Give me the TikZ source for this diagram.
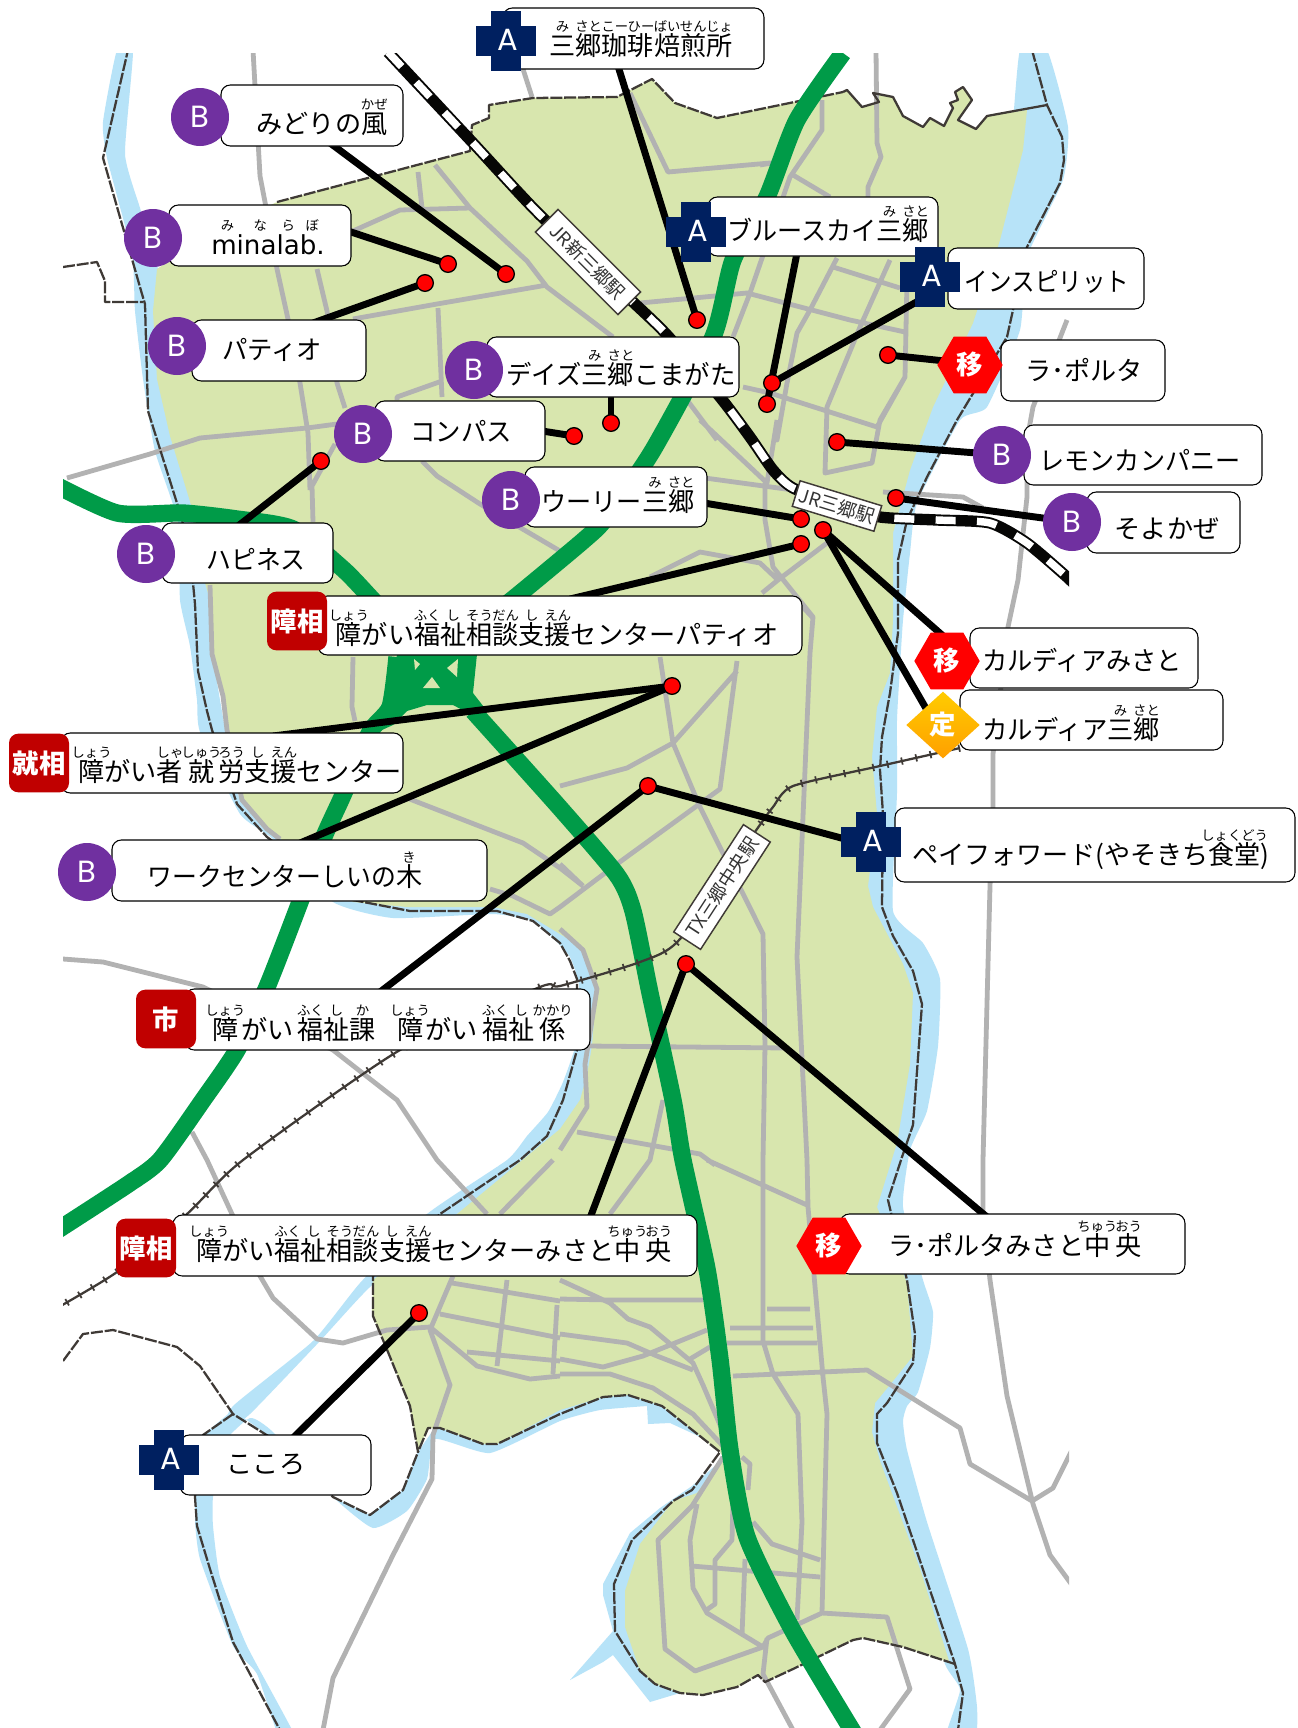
\documentclass[tikz,border=0pt]{standalone}
\usepackage{fontspec}
\setmainfont{Noto Sans CJK JP}
\newfontfamily\poppinsf{Poppins}
\newfontfamily\dejavuf{DejaVu Sans}
\usetikzlibrary{shapes.geometric,calc}
\pgfdeclarelayer{map}
\pgfdeclarelayer{conn}
\pgfsetlayers{map,conn,main}
\definecolor{river}{HTML}{B7E3F8}
\definecolor{city}{HTML}{D8E6AE}
\definecolor{roadc}{HTML}{B2B2B2}
\definecolor{expw}{HTML}{009B48}
\definecolor{bord}{HTML}{3F3A36}
\definecolor{navyc}{HTML}{002060}
\definecolor{purpc}{HTML}{7030A0}
\definecolor{redd}{HTML}{C00000}
\tikzset{
 x=.75pt,y=-.75pt,
 road/.style={draw=roadc,line width=3.6pt,line join=round},
 border/.style={draw=bord,line width=1.7pt,dash pattern=on 9pt off 1.4pt,line join=round},
 expway/.style={draw=expw,line width=13pt,line join=round},
 conn/.style={draw=black,line width=5.2pt},
 dot/.style={circle,fill=red,draw=black,line width=1pt,minimum size=12.5pt,inner sep=0pt,outer sep=0pt},
 labbox/.style={draw=black,line width=.8pt,fill=white,rounded corners=7pt,inner sep=0pt,outer sep=0pt},
 txt/.style={anchor=base,inner sep=0pt,outer sep=0pt,font=\fontsize{19.6pt}{24pt}\selectfont},
 bcirc/.style={circle,fill=purpc,minimum size=43.5pt,inner sep=0pt,outer sep=0pt,text=white,font=\poppinsf\fontsize{23pt}{24pt}\selectfont},
 crossv/.style={fill=navyc,minimum width=22.5pt,minimum height=45pt,inner sep=0pt,outer sep=0pt},
 crossh/.style={fill=navyc,minimum width=45pt,minimum height=22.5pt,inner sep=0pt,outer sep=0pt,text=white,font=\poppinsf\fontsize{23pt}{24pt}\selectfont},
 hexa/.style={regular polygon,regular polygon sides=6,fill=red,minimum size=49pt,inner sep=0pt,outer sep=0pt,text=white,font=\bfseries\fontsize{19.8pt}{24pt}\selectfont},
 dia/.style={diamond,aspect=1.08,shade,top color=yellow!60!orange,middle color=yellow!75!orange,bottom color=orange!75!yellow,minimum width=55pt,minimum height=50pt,inner sep=0pt,outer sep=0pt,text=white,font=\bfseries\fontsize{19.8pt}{24pt}\selectfont},
 badge/.style={fill=redd,rounded corners=7pt,inner sep=0pt,outer sep=0pt,minimum width=45pt,minimum height=44pt,text=white,font=\bfseries\fontsize{19.8pt}{24pt}\selectfont},
 station/.style={draw=bord,line width=1.1pt,fill=white,inner sep=0pt,outer sep=0pt,text=black!80,font=\fontsize{14pt}{15pt}\selectfont},
}
\newcommand\rb[2]{\setbox0=\hbox{#1}\hbox to \wd0{\hss\raisebox{18pt}[0pt][0pt]{\hbox{\fontsize{10pt}{10pt}\selectfont #2}}\hss}\kern-\wd0\box0}
\newcommand\lab[5]{\pgfmathsetmacro\labw{(#4-#2)*.75}\pgfmathsetmacro\labh{(#5-#3)*.75}%
 \node[labbox,minimum width=\labw pt,minimum height=\labh pt] (#1) at ({(#2+#4)/2},{(#3+#5)/2}) {};}
\newcommand\crossmark[3]{\node[crossv] (#1v) at (#2,#3) {};\node[crossh] (#1) at (#2,#3) {\hspace{2pt}\raisebox{1pt}{A}};}
\newcommand\narrow[2]{\scalebox{#1}[1]{#2}}
\begin{document}
\begin{tikzpicture}
\useasboundingbox (0,0) rectangle (1298,1728);
\begin{pgfonlayer}{map}
\fill[white] (0,0) rectangle (1298,1728);
\begin{scope}
\clip (63,53) rectangle (1069,1728);
% rivers
\fill[river] plot[smooth cycle,tension=.3] coordinates {(1020,50)(1047,50)(1068,127)(1063,180)(1027,257)(1020,330)(987,407)(960,420)(917,503)(910,553)(903,620)(900,667)(897,720)(897,793)(893,911)(923,943)(940,979)(938,1046)(927,1111)(910,1150)(903,1207)(923,1280)(933,1312)(930,1348)(918,1392)(907,1406)(903,1421)(907,1450)(927,1522)(968,1649)(977,1707)(975,1740)(945,1740)(960,1690)(945,1664)(915,1569)(870,1440)(870,1400)(885,1380)(870,1207)(885,1140)(895,1064)(885,980)(860,900)(865,814)(860,757)(875,670)(880,533)(900,470)(925,410)(985,240)(1010,150)};
\fill[river] plot[smooth cycle,tension=.3] coordinates {(117,50)(103,122)(107,158)(132,254)(135,311)(143,379)(155,451)(178,522)(180,600)(190,646)(197,700)(200,732)(240,814)(273,839)(333,902)(393,918)(493,914)(533,921)(555,940)(570,957)(579,985)(577,1040)(563,1082)(548,1112)(527,1136)(507,1160)(427,1214)(360,1283)(313,1341)(233,1406)(225,1430)(250,1414)(320,1341)(370,1287)(457,1214)(560,1140)(592,1085)(605,986)(585,940)(530,900)(400,895)(350,890)(280,825)(240,800)(220,700)(212,646)(212,600)(200,508)(172,436)(160,379)(158,311)(158,269)(140,208)(125,154)(133,50)};
\fill[river] (203,1435) -- (195,1497) -- plot[smooth,tension=.3] coordinates {(195,1522)(200,1559)(233,1646)(257,1674)(280,1740)(297,1740)(247,1646)(220,1577)(213,1526)(213,1497)(222,1445)(250,1418)(273,1432)(333,1497)(373,1528)(407,1511)(427,1479)(435,1439)(490,1453)(560,1421)(600,1410)(647,1406)} -- (648,1424) -- (670,1423) -- (720,1446) -- (725,1457) -- (662,1395) -- (600,1385) -- (500,1430) -- (440,1420) -- (418,1452) -- (403,1490) -- (370,1515) -- (333,1497) -- (273,1439) -- (233,1410) -- cycle;
\fill[river] (725,1457) -- (692,1486) -- (660,1508) -- (630,1533) -- (603,1584) -- (603,1595) -- (613,1631) -- (570,1680) -- (603,1662) -- (613,1655) -- (650,1702) -- (680,1693) -- (680,1675) -- (640,1600) -- (650,1540) -- (700,1495) -- (730,1460) -- cycle;
% city
\fill[city] (277,202)--(470,151)--(472,125)--(489,118)--(489,105)--(533,98)--(617,97)--(652,79)--(675,103)--(717,118)--(843,92)--(847,90)--(862,107)--(879,102)--(873,93)--(893,97)--(903,116)--(923,127)--(930,118)--(944,126)--(953,108)--(950,103)--(958,100)--(955,92)--(963,87)--(972,100)--(958,120)--(976,129)--(987,116)--(1027,110)--(1023,150)--(1000,240)--(973,323)--(933,407)--(910,470)--(893,533)--(893,620)--(890,673)--(877,707)--(872,757)--(877,814)--(868,886)--(873,907)--(903,964)--(913,993)--(910,1064)--(897,1143)--(877,1207)--(907,1283)--(913,1356)--(893,1381)--(875,1403)--(872,1432)--(880,1461)--(920,1569)--(950,1664)--(955,1664)--(903,1647)--(863,1638)--(853,1640)--(793,1669)--(765,1682)--(758,1675)--(737,1687)--(703,1695)--(680,1693)--(655,1684)--(640,1671)--(625,1627)--(625,1591)--(640,1544)--(673,1501)--(697,1493)--(723,1457)--(720,1452)--(662,1406)--(628,1395)--(603,1397)--(560,1410)--(497,1444)--(483,1444)--(440,1428)--(428,1428)--(418,1452)--(410,1406)--(388,1352)--(372,1314)--(373,1280)--(457,1214)--(560,1129)--(580,1100)--(587,1075)--(592,1046)--(597,986)--(580,946)--(560,934)--(527,914)--(493,907)--(407,907)--(353,902)--(273,832)--(243,804)--(227,732)--(223,696)--(210,646)--(210,600)--(203,576)--(192,508)--(170,436)--(157,379)--(153,311)--(157,269)--(200,240)--cycle;
% roads
\draw[road] (253,50)--(260,176)--(265,202)--(277,269)--(288,319)--(300,383)--(308,433)--(310,490)
 (317,269)--(327,311)--(337,383)--(345,408)
 (67,478)--(150,454)--(200,438)--(307,428)--(337,424)
 (353,231)--(400,210)--(470,208)
 (435,165)--(470,208)--(527,261)--(547,287)--(613,337)
 (418,172)--(422,208)
 (353,319)--(437,304)--(547,285)
 (438,308)--(442,397)
 (397,400)--(397,397)--(442,381)
 (335,444)--(312,486)--(313,522)
 (422,461)--(437,476)--(480,504)--(560,551)
 (523,69)--(532,97)
 (630,93)--(668,172)--(770,163)
 (822,100)--(822,130)--(790,177)--(750,293)--(733,337)
 (793,175)--(830,197)
 (760,165)--(772,163)
 (876,50)--(877,143)--(881,157)--(868,187)--(868,197)
 (640,303)--(747,293)--(850,320)--(905,332)
 (833,267)--(900,288)
 (837,258)--(810,310)--(797,333)--(787,383)--(777,440)--(777,420)
 (890,260)--(860,327)--(827,407)--(825,473)--(872,463)--(880,420)--(905,377)--(907,280)
 (743,387)--(770,393)--(877,427)--(905,377)
 (700,420)--(767,483)--(777,420)
 (687,400)--(717,440)
 (705,478)--(793,490)
 (765,483)--(765,520)--(773,567)--(813,617)--(810,653)--(797,957)--(807,1160)--(808,1207)--(823,1377)--(827,1414)--(822,1613)
 (650,577)--(700,552)--(760,563)--(778,580)
 (778,580)--(827,543)
 (762,593)--(778,580)
 (883,492)--(963,497)--(983,508)
 (1067,320)--(1033,407)--(1027,440)--(1027,497)--(1018,580)--(1008,627)--(993,754)--(993,807)--(990,886)--(983,1160)--(983,1211)--(990,1280)--(1007,1396)--(1033,1504)--(1050,1555)--(1072,1585)
 (1032,1501)--(1053,1488)--(1072,1450)
 (733,1376)--(867,1370)--(960,1428)--(970,1464)--(1032,1501)
 (660,657)--(673,743)--(700,807)--(763,934)--(765,1046)--(763,1160)--(763,1341)--(773,1374)--(798,1414)--(802,1522)--(797,1620)
 (737,661)--(720,789)--(617,864)--(560,907)
 (737,671)--(673,743)--(627,768)--(560,786)
 (800,604)--(813,618)
 (588,1046)--(787,1048)
 (560,929)--(583,950)--(597,989)--(585,1064)--(587,1107)--(560,1150)
 (577,1132)--(700,1154)--(715,1165)
 (663,1100)--(650,1160)--(610,1214)
 (560,864)--(583,886)
 (707,1160)--(807,1205)
 (560,1280)--(610,1303)--(628,1319)--(650,1327)--(693,1363)--(703,1385)--(723,1432)
 (560,1299)--(610,1300)--(703,1300)
 (560,1334)--(627,1343)--(657,1356)--(693,1370)
 (560,1359)--(603,1367)--(643,1356)--(707,1330)
 (690,1359)--(710,1347)
 (730,1328)--(813,1328)
 (727,1343)--(817,1343)
 (767,1309)--(810,1309)
 (560,1374)--(610,1374)--(653,1388)--(693,1414)--(723,1446)
 (723,1457)--(692,1506)--(658,1540)--(665,1649)--(695,1671)--(763,1647)
 (697,1504)--(690,1540)--(693,1588)--(707,1613)--(763,1647)--(768,1638)--(822,1613)--(887,1617)--(910,1689)--(880,1730)
 (742,1457)--(750,1464)--(748,1490)
 (733,1500)--(732,1540)--(715,1560)--(715,1604)--(705,1611)
 (753,1522)--(772,1544)--(820,1560)
 (692,1566)--(820,1577)
 (745,1559)--(742,1635)
 (767,1638)--(763,1674)--(793,1730)
 (437,1160)--(487,1214)
 (553,1160)--(500,1214)
 (192,1132)--(207,1160)--(232,1214)--(260,1276)--(273,1298)--(317,1339)--(343,1343)--(387,1330)--(430,1327)
 (453,1276)--(430,1330)--(450,1385)--(433,1435)--(432,1479)--(393,1555)--(333,1678)--(323,1730)
 (452,1283)--(560,1301)
 (507,1280)--(497,1366)
 (440,1314)--(560,1338)
 (430,1327)--(477,1366)--(530,1379)--(560,1376)
 (467,1352)--(560,1361)
 (557,1305)--(553,1374)
 (63,959)--(103,962)--(203,987)--(333,1050)--(397,1100)--(437,1160)
 (353,657)--(352,707)--(355,721)
 (210,585)--(212,654)--(223,696)--(227,730)--(242,800)--(267,829)--(280,839)
 (407,798)--(523,843)--(560,868)--(583,886)
 (490,889)--(513,896)--(550,914)--(560,907)
 ;
% boundaries
\draw[border] (277,202)--(470,151)--(472,125)--(489,118)--(489,105)--(533,98)--(617,97)--(652,79)--(675,103)--(717,118)--(843,92);
\draw[bord,line width=1.7pt,line join=round] (843,92)--(847,90)--(862,107)--(879,102)--(873,93)--(893,97)--(903,116)--(923,127)--(930,118)--(944,126)--(953,108)--(950,103)--(958,100)--(955,92)--(963,87)--(972,100)--(958,120)--(976,129)--(987,116)--(1047,105);
\draw[border] (1032,50)--(1047,105)--(1062,137)--(1064,160)--(1060,183)--(1027,247)--(1007,337)--(957,420)--(927,477)--(907,520)--(898,560)--(898,633)--(890,693)--(882,737)--(880,770)--(883,814)--(882,907)--(893,936)--(913,971)--(922,1004)--(913,1125)--(902,1157)--(888,1200)--(907,1280)--(915,1334)--(913,1363)--(887,1403)--(877,1414)--(877,1443)--(897,1493)--(913,1540)--(955,1664)--(963,1693)--(958,1730);
\draw[border] (955,1664)--(903,1647)--(863,1638)--(853,1640)--(793,1669)--(765,1682)--(758,1675)--(737,1687)--(703,1695)--(680,1693)--(655,1684)--(640,1671)--(615,1631)--(614,1584)--(632,1540)--(673,1501)--(692,1490)--(720,1452)--(662,1406)--(628,1395)--(603,1397)--(560,1414)--(497,1444)--(483,1444)--(440,1428)--(428,1428)--(418,1452)--(410,1406)--(388,1352)--(373,1316)--(373,1276)--(440,1214)--(520,1160)--(547,1136)--(563,1100)--(577,1050)--(577,979)--(570,961)--(560,943)--(533,921)--(497,911)--(410,911)--(353,900)--(267,837)--(237,804)--(212,730)--(207,711)--(198,671)--(195,604)--(193,583)--(182,519)--(148,411)--(145,304)--(142,294)--(103,158)--(128,50);
\draw[border] (63,267)--(97,262)--(105,281)--(105,302)--(143,302);
\draw[border] (63,1361)--(83,1334)--(113,1330)--(177,1347)--(200,1366)--(233,1414)--(273,1439)--(333,1497)--(370,1515)--(403,1490)--(418,1452);
\draw[border] (233,1414)--(203,1435)--(195,1497)--(197,1526)--(210,1569)--(233,1642)--(250,1674)--(280,1730);
% expressways
\draw[expway] plot[smooth,tension=.4] coordinates {(843,53)(797,120)(767,197)(733,260)(713,337)(653,450)(606,518)(584,540)(518,595)(480,625)};
\draw[expway] plot[smooth,tension=.4] coordinates {(397,657)(390,707)(370,732)(343,795)(323,839)(300,902)(267,987)(237,1050)(203,1100)(160,1160)(127,1185)(50,1235)};
\draw[expway] plot[smooth,tension=.4] coordinates {(50,482)(117,513)(183,513)(237,519)(293,529)(343,569)(370,597)(400,630)};
\draw[expway] plot[smooth,tension=.4] coordinates {(473,711)(560,808)(617,875)(633,911)(650,993)(673,1100)(683,1160)(707,1269)(720,1359)(730,1450)(747,1537)(793,1631)(855,1735)};
\fill[expw] (397,654)--(477,654)--(473,693)--(487,711)--(470,714)--(453,705)--(427,705)--(407,711)--(393,725)--(373,734)--(383,714)--(393,693)--cycle;
\fill[city] (414,659)--(420,664)--(415,670)--cycle (458,659)--(447,668)--(457,677)--cycle (432,677)--(423,688)--(440,688)--cycle;
% railways
\draw[black!90!bord,line width=8.5pt] plot[smooth,tension=.4] coordinates {(388,52)(473,143)(540,215)(633,302)(667,335)(720,397)(750,437)(773,470)(793,488)(840,505)(880,517)(937,520)(990,523)(1027,543)(1067,577)(1080,590)};
\draw[white,line width=5.6pt,dash pattern=on 15pt off 16pt] plot[smooth,tension=.4] coordinates {(388,52)(473,143)(540,215)(633,302)(667,335)(720,397)(750,437)(773,470)(793,488)(840,505)(880,517)(937,520)(990,523)(1027,543)(1067,577)(1080,590)};
\draw[bord,line width=1.7pt] plot[smooth,tension=.4] coordinates {(960,748)(880,766)(793,786)(773,807)(757,829)(680,939)(640,962)(560,986)(540,987)(400,1050)(243,1160)(187,1214)(117,1272)(50,1312)};
\draw[bord,line width=5.5pt,dash pattern=on 1.3pt off 9.7pt] plot[smooth,tension=.4] coordinates {(960,748)(880,766)(793,786)(773,807)(757,829)(680,939)(640,962)(560,986)(540,987)(400,1050)(243,1160)(187,1214)(117,1272)(50,1312)};
\end{scope}
\end{pgfonlayer}
% station plates
\node[station,minimum width=87.5pt,minimum height=24pt,rotate=-45] (sShin) at (588,262) {JR新三郷駅};
\node[station,minimum width=64pt,minimum height=20pt,rotate=-17] (sJR) at (837,506) {JR三郷駅};
\node[station,minimum width=96pt,minimum height=24pt,rotate=57] (sTX) at (722,887) {TX三郷中央駅};
% label boxes
\lab{lCoffee}{503}{8}{764}{69}
\lab{lMid}{221}{85}{403}{146}
\lab{lBlue}{708}{197}{938}{256}
\lab{lMina}{169}{205}{351}{266}
\lab{lInsp}{948}{248}{1144}{309}
\lab{lPatio}{192}{320}{366}{381}
\lab{lDays}{487}{337}{739}{397}
\lab{lPorta}{1001}{340}{1165}{401}
\lab{lCompass}{375}{401}{545}{461}
\lab{lLemon}{1024}{425}{1262}{485}
\lab{lWoori}{525}{467}{707}{527}
\lab{lSoyo}{1087}{492}{1240}{553}
\lab{lHappy}{162}{523}{333}{583}
\lab{lCenterP}{318}{596}{802}{655}
\lab{lCarM}{970}{628}{1198}{688}
\lab{lCarS}{960}{690}{1223}{750}
\lab{lJob}{61}{733}{403}{793}
\lab{lPay}{895}{808}{1295}{882}
\lab{lWork}{112}{840}{487}{901}
\lab{lShi}{185}{989}{590}{1050}
\lab{lPMC}{840}{1214}{1185}{1274}
\lab{lMC}{173}{1215}{697}{1276}
\lab{lKoko}{180}{1435}{371}{1495}
% badges
\crossmark{xCoffee}{506}{41}
\crossmark{xBlue}{696}{232}
\crossmark{xInsp}{930}{277}
\crossmark{xPay}{871}{842}
\crossmark{xKoko}{169}{1460}
\node[bcirc] (cMid) at (200,117) {B};
\node[bcirc] (cMina) at (153,238) {B};
\node[bcirc] (cPatio) at (177,346) {B};
\node[bcirc] (cDays) at (474,370) {B};
\node[bcirc] (cCompass) at (363,434) {B};
\node[bcirc] (cLemon) at (1002,455) {B};
\node[bcirc] (cWoori) at (511,500) {B};
\node[bcirc] (cSoyo) at (1072,522) {B};
\node[bcirc] (cHappy) at (146,554) {B};
\node[bcirc] (cWork) at (87,872) {B};
\node[hexa] (hPorta) at (970,365) {\raisebox{-2pt}{移}};
\node[hexa] (hCardia) at (947,661) {\raisebox{-2pt}{移}};
\node[hexa] (hPMC) at (829,1246) {\raisebox{1pt}{移}};
\node[dia] (dTei) at (943,725) {\raisebox{-1pt}{定}};
\node[badge] (bCenterP) at (297,621) {\raisebox{-1.5pt}{障相}};
\node[badge] (bJob) at (39,763) {\raisebox{-1.5pt}{就相}};
\node[badge] (bShi) at (166,1019) {市};
\node[badge] (bMC) at (146,1248) {障相};
% label texts
\node[txt] (tCoffee) at (641,55) {\rb{三}{み}\rb{郷}{さと}\rb{珈}{こー}\rb{琲}{ひー}\rb{焙}{ばい}\rb{煎}{せん}\rb{所}{じょ}};
\node[txt] (tMid) at (322,133) {みどりの\rb{風}{かぜ}};
\node[txt] (tBlue) at (828,240) {\narrow{.96}{ブルースカイ}\rb{三}{み}\rb{郷}{さと}};
\node[txt] (tMina) at (268,254) {\dejavuf\rb{mi}{\rmfamily み}\rb{na}{\rmfamily な}\rb{la}{\rmfamily ら}\rb{b.}{\rmfamily ぼ}};
\node[txt] (tInsp) at (1047,291) {\narrow{.9}{インスピリット}};
\node[txt] (tPatio) at (272,359) {\narrow{.97}{パティオ}};
\node[txt] (tDays) at (621,384) {\narrow{.97}{デイズ}\rb{三}{み}\rb{郷}{さと}\narrow{.97}{こまがた}};
\node[txt] (tPorta) at (1084,380) {ラ･ポルタ};
\node[txt] (tCompass) at (461,441) {\narrow{.97}{コンパス}};
\node[txt] (tLemon) at (1140,470) {\narrow{.96}{レモンカンパニー}};
\node[txt] (tWoori) at (618,511) {\narrow{.96}{ウーリー}\rb{三}{み}\rb{郷}{さと}};
\node[txt] (tSoyo) at (1167,538) {そよかぜ};
\node[txt] (tHappy) at (256,569) {\narrow{.95}{ハピネス}};
\node[txt] (tCenterP) at (557,644) {\rb{障}{しょう}がい\rb{福}{ふく}\rb{祉}{し}\rb{相}{そう}\rb{談}{だん}\rb{支}{し}\rb{援}{えん}センターパティオ};
\node[txt] (tCarM) at (1082,670) {\narrow{.965}{カルディアみさと}};
\node[txt] (tCarS) at (1071,739) {\narrow{.97}{カルディア}\rb{三}{み}\rb{郷}{さと}};
\node[txt] (tJob) at (240,781) {\rb{障}{しょう}がい\rb{者}{しゃ}\hspace{4pt}\rb{就}{しゅう}\hspace{3pt}\rb{労}{ろう}\rb{支}{し}\rb{援}{えん}センター};
\node[txt] (tPay) at (1091,864) {ペイフォワード(やそきち\rb{食堂}{しょくどう})};
\node[txt] (tWork) at (285,886) {\narrow{.95}{ワークセンターしいの}\rb{木}{き}};
\node[txt] (tShi) at (389,1039) {\rb{障}{しょう}\hspace{2pt}がい\hspace{3pt}\rb{福}{ふく}\rb{祉}{し}\rb{課}{か}\hspace{16pt}\rb{障}{しょう}\hspace{2pt}がい\hspace{3pt}\rb{福}{ふく}\rb{祉}{し}\hspace{4pt}\rb{係}{かかり}};
\node[txt] (tMC) at (434,1260) {\rb{障}{しょう}がい\rb{福}{ふく}\rb{祉}{し}\rb{相}{そう}\rb{談}{だん}\rb{支}{し}\rb{援}{えん}センターみさと\rb{中}{ちゅう}\hspace{4pt}\rb{央}{おう}};
\node[txt] (tPMC) at (1015,1255) {ラ･ポルタみさと\rb{中}{ちゅう}\hspace{4pt}\rb{央}{おう}};
\node[txt] (tKoko) at (266,1473) {こころ};
% dots
\node[dot] (dMid) at (506,274) {};
\node[dot] (dMina) at (448,264) {};
\node[dot] (dPatio) at (425,283) {};
\node[dot] (dCoffee) at (697,320) {};
\node[dot] (dBlue) at (767,404) {};
\node[dot] (dInsp) at (772,383) {};
\node[dot] (dDays) at (611,423) {};
\node[dot] (dCompass) at (574,436) {};
\node[dot] (dHappy) at (321,461) {};
\node[dot] (dPorta) at (888,355) {};
\node[dot] (dLemon) at (837,442) {};
\node[dot] (dSoyo) at (896,498) {};
\node[dot] (dWoori) at (801,519) {};
\node[dot] (dCenterP) at (801,544) {};
\node[dot] (dCardia) at (823,530) {};
\node[dot] (dJob) at (672,686) {};
\node[dot] (dPay) at (648,786) {};
\node[dot] (dMC) at (686,964) {};
\node[dot] (dKoko) at (419,1313) {};
% connectors
\begin{pgfonlayer}{conn}
\draw[conn] (dCoffee.center) -- ($(lCoffee.south west)+(115,-3)$);
\draw[conn] (dMid.center) -- ($(lMid.south west)+(109,-3)$);
\draw[conn] (dMina.center) -- ($(lMina.north east)+(-3,26)$);
\draw[conn] (dPatio.center) -- ($(lPatio.north west)+(121,3)$);
\draw[conn] (dHappy.center) -- ($(lHappy.north west)+(76,3)$);
\draw[conn] (dCompass.center) -- ($(lCompass.north east)+(-3,30)$);
\draw[conn] (dDays.center) -- ($(lDays.south west)+(124,-3)$);
\draw[conn] (dWoori.center) -- ($(lWoori.north east)+(-3,36)$);
\draw[conn] (dCenterP.center) -- ($(lCenterP.north west)+(252,3)$);
\draw[conn] (dBlue.center) -- ($(lBlue.south west)+(89,-3)$);
\draw[conn] (dInsp.center) -- ($(xInsp)+(-10,23)$);
\draw[conn] (dPorta.center) -- ($(hPorta)+(-25,-4)$);
\draw[conn] (dLemon.center) -- (cLemon.center);
\draw[conn] (dSoyo.center) -- (cSoyo.center);
\draw[conn] (dCardia.center) -- ($(hCardia)+(3,-19)$);
\draw[conn] (dCardia.center) -- ($(dTei)+(-8,-1)$);
\draw[conn] (dPay.center) -- ($(xPay)+(0,4)$);
\draw[conn] (dPay.center) -- ($(lShi.north west)+(195,3)$);
\draw[conn] (dJob.center) -- ($(lJob.north west)+(212,3)$);
\draw[conn] (dJob.center) -- ($(lWork.north west)+(188,3)$);
\draw[conn] (dMC.center) -- ($(lMC.north west)+(417,3)$);
\draw[conn] (dMC.center) -- ($(lPMC.north west)+(147,3)$);
\draw[conn] (dKoko.center) -- ($(lKoko.north west)+(113,3)$);
\end{pgfonlayer}
\end{tikzpicture}
\end{document}
